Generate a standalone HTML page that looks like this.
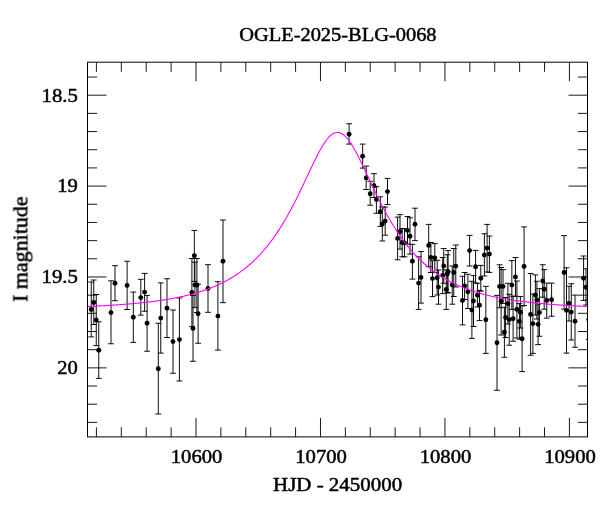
<!DOCTYPE html>
<html><head><meta charset="utf-8"><title>OGLE-2025-BLG-0068</title>
<style>html,body{margin:0;padding:0;background:#fff;}svg{display:block;}text{font-family:"Liberation Serif",serif;fill:#000;}</style></head><body>
<svg width="600" height="512" viewBox="0 0 600 512">
<rect width="600" height="512" fill="#fff"/>
<defs><clipPath id="c"><rect x="87.5" y="62.2" width="500" height="374.7"/></clipPath></defs>
<path d="M96.42,62.2v9.6 M96.42,436.9v-9.6 M121.32,62.2v9.6 M121.32,436.9v-9.6 M146.21,62.2v9.6 M146.21,436.9v-9.6 M171.11,62.2v9.6 M171.11,436.9v-9.6 M196.00,62.2v19 M196.00,436.9v-19 M220.89,62.2v9.6 M220.89,436.9v-9.6 M245.79,62.2v9.6 M245.79,436.9v-9.6 M270.68,62.2v9.6 M270.68,436.9v-9.6 M295.58,62.2v9.6 M295.58,436.9v-9.6 M320.47,62.2v19 M320.47,436.9v-19 M345.36,62.2v9.6 M345.36,436.9v-9.6 M370.26,62.2v9.6 M370.26,436.9v-9.6 M395.15,62.2v9.6 M395.15,436.9v-9.6 M420.05,62.2v9.6 M420.05,436.9v-9.6 M444.94,62.2v19 M444.94,436.9v-19 M469.83,62.2v9.6 M469.83,436.9v-9.6 M494.73,62.2v9.6 M494.73,436.9v-9.6 M519.62,62.2v9.6 M519.62,436.9v-9.6 M544.52,62.2v9.6 M544.52,436.9v-9.6 M569.41,62.2v19 M569.41,436.9v-19 M87.5,77.02h9.6 M587.5,77.02h-9.6 M87.5,95.20h19 M587.5,95.20h-19 M87.5,113.38h9.6 M587.5,113.38h-9.6 M87.5,131.55h9.6 M587.5,131.55h-9.6 M87.5,149.73h9.6 M587.5,149.73h-9.6 M87.5,167.91h9.6 M587.5,167.91h-9.6 M87.5,186.09h19 M587.5,186.09h-19 M87.5,204.26h9.6 M587.5,204.26h-9.6 M87.5,222.44h9.6 M587.5,222.44h-9.6 M87.5,240.62h9.6 M587.5,240.62h-9.6 M87.5,258.79h9.6 M587.5,258.79h-9.6 M87.5,276.97h19 M587.5,276.97h-19 M87.5,295.15h9.6 M587.5,295.15h-9.6 M87.5,313.32h9.6 M587.5,313.32h-9.6 M87.5,331.50h9.6 M587.5,331.50h-9.6 M87.5,349.68h9.6 M587.5,349.68h-9.6 M87.5,367.86h19 M587.5,367.86h-19 M87.5,386.03h9.6 M587.5,386.03h-9.6 M87.5,404.21h9.6 M587.5,404.21h-9.6 M87.5,422.39h9.6 M587.5,422.39h-9.6" stroke="#000" stroke-width="0.9" fill="none"/>
<g clip-path="url(#c)">
<path d="M91.25,282.00V336.90 M88.35,282.00h5.8 M88.35,336.90h5.8 M93.75,280.00V324.50 M90.85,280.00h5.8 M90.85,324.50h5.8 M96.25,294.50V345.60 M93.35,294.50h5.8 M93.35,345.60h5.8 M98.75,321.80V378.40 M95.85,321.80h5.8 M95.85,378.40h5.8 M111.00,280.80V343.75 M108.10,280.80h5.8 M108.10,343.75h5.8 M115.00,265.70V300.70 M112.10,265.70h5.8 M112.10,300.70h5.8 M127.10,261.25V309.50 M124.20,261.25h5.8 M124.20,309.50h5.8 M133.30,292.10V342.40 M130.40,292.10h5.8 M130.40,342.40h5.8 M140.80,279.30V315.10 M137.90,279.30h5.8 M137.90,315.10h5.8 M144.60,273.40V311.25 M141.70,273.40h5.8 M141.70,311.25h5.8 M147.10,295.40V351.25 M144.20,295.40h5.8 M144.20,351.25h5.8 M160.75,282.90V353.10 M157.85,282.90h5.8 M157.85,353.10h5.8 M158.30,323.25V414.00 M155.40,323.25h5.8 M155.40,414.00h5.8 M167.00,278.75V337.50 M164.10,278.75h5.8 M164.10,337.50h5.8 M173.00,310.00V373.25 M170.10,310.00h5.8 M170.10,373.25h5.8 M179.40,298.00V381.00 M176.50,298.00h5.8 M176.50,381.00h5.8 M194.35,230.50V281.40 M191.45,230.50h5.8 M191.45,281.40h5.8 M194.90,262.20V307.60 M192.00,262.20h5.8 M192.00,307.60h5.8 M196.90,258.50V312.50 M194.00,258.50h5.8 M194.00,312.50h5.8 M191.90,258.50V326.60 M189.00,258.50h5.8 M189.00,326.60h5.8 M193.00,295.40V361.25 M190.10,295.40h5.8 M190.10,361.25h5.8 M198.10,284.30V343.25 M195.20,284.30h5.8 M195.20,343.25h5.8 M208.00,264.70V312.30 M205.10,264.70h5.8 M205.10,312.30h5.8 M217.90,281.70V350.10 M215.00,281.70h5.8 M215.00,350.10h5.8 M223.00,220.00V302.70 M220.10,220.00h5.8 M220.10,302.70h5.8 M349.10,123.75V144.10 M346.20,123.75h5.8 M346.20,144.10h5.8 M362.65,144.10V168.10 M359.75,144.10h5.8 M359.75,168.10h5.8 M366.20,166.10V189.50 M363.30,166.10h5.8 M363.30,189.50h5.8 M374.00,173.70V197.50 M371.10,173.70h5.8 M371.10,197.50h5.8 M370.20,181.30V205.20 M367.30,181.30h5.8 M367.30,205.20h5.8 M376.40,186.70V213.30 M373.50,186.70h5.8 M373.50,213.30h5.8 M387.50,178.40V204.50 M384.60,178.40h5.8 M384.60,204.50h5.8 M380.30,196.80V226.40 M377.40,196.80h5.8 M377.40,226.40h5.8 M385.20,207.00V235.20 M382.30,207.00h5.8 M382.30,235.20h5.8 M382.30,207.00V241.00 M379.40,207.00h5.8 M379.40,241.00h5.8 M397.60,217.10V259.80 M394.70,217.10h5.8 M394.70,259.80h5.8 M400.00,214.60V249.10 M397.10,214.60h5.8 M397.10,249.10h5.8 M402.20,228.50V256.80 M399.30,228.50h5.8 M399.30,256.80h5.8 M404.50,228.80V256.80 M401.60,228.80h5.8 M401.60,256.80h5.8 M407.50,216.50V244.00 M404.60,216.50h5.8 M404.60,244.00h5.8 M410.00,217.80V254.10 M407.10,217.80h5.8 M407.10,254.10h5.8 M415.00,208.20V240.60 M412.10,208.20h5.8 M412.10,240.60h5.8 M428.70,224.40V266.60 M425.80,224.40h5.8 M425.80,266.60h5.8 M412.40,244.30V279.10 M409.50,244.30h5.8 M409.50,279.10h5.8 M421.00,251.60V303.10 M418.10,251.60h5.8 M418.10,303.10h5.8 M418.60,256.80V309.40 M415.70,256.80h5.8 M415.70,309.40h5.8 M430.90,242.50V272.50 M428.00,242.50h5.8 M428.00,272.50h5.8 M434.80,243.60V272.50 M431.90,243.60h5.8 M431.90,272.50h5.8 M432.50,260.80V296.60 M429.60,260.80h5.8 M429.60,296.60h5.8 M437.20,260.30V295.00 M434.30,260.30h5.8 M434.30,295.00h5.8 M438.50,270.00V304.20 M435.60,270.00h5.8 M435.60,304.20h5.8 M443.70,248.50V283.30 M440.80,248.50h5.8 M440.80,283.30h5.8 M442.70,257.50V293.60 M439.80,257.50h5.8 M439.80,293.60h5.8 M446.25,269.80V309.40 M443.35,269.80h5.8 M443.35,309.40h5.8 M448.10,250.60V292.60 M445.20,250.60h5.8 M445.20,292.60h5.8 M453.75,248.50V296.50 M450.85,248.50h5.8 M450.85,296.50h5.8 M455.80,245.00V287.00 M452.90,245.00h5.8 M452.90,287.00h5.8 M452.25,266.00V304.20 M449.35,266.00h5.8 M449.35,304.20h5.8 M447.30,254.75V293.00 M444.40,254.75h5.8 M444.40,293.00h5.8 M469.60,235.40V266.00 M466.70,235.40h5.8 M466.70,266.00h5.8 M475.60,250.40V283.00 M472.70,250.40h5.8 M472.70,283.00h5.8 M484.40,233.75V276.00 M481.50,233.75h5.8 M481.50,276.00h5.8 M487.10,224.40V272.00 M484.20,224.40h5.8 M484.20,272.00h5.8 M489.40,236.00V272.40 M486.50,236.00h5.8 M486.50,272.40h5.8 M480.80,265.40V291.20 M477.90,265.40h5.8 M477.90,291.20h5.8 M462.50,276.25V324.90 M459.60,276.25h5.8 M459.60,324.90h5.8 M464.60,272.50V299.50 M461.70,272.50h5.8 M461.70,299.50h5.8 M467.90,274.20V308.50 M465.00,274.20h5.8 M465.00,308.50h5.8 M473.50,275.60V326.50 M470.60,275.60h5.8 M470.60,326.50h5.8 M471.90,281.30V338.40 M469.00,281.30h5.8 M469.00,338.40h5.8 M477.45,283.30V307.00 M474.55,283.30h5.8 M474.55,307.00h5.8 M479.50,290.40V320.60 M476.60,290.40h5.8 M476.60,320.60h5.8 M485.85,286.30V353.40 M482.95,286.30h5.8 M482.95,353.40h5.8 M499.60,264.80V307.80 M496.70,264.80h5.8 M496.70,307.80h5.8 M497.00,295.40V390.25 M494.10,295.40h5.8 M494.10,390.25h5.8 M524.10,226.90V305.60 M521.20,226.90h5.8 M521.20,305.60h5.8 M515.45,257.50V296.20 M512.55,257.50h5.8 M512.55,296.20h5.8 M564.10,235.60V309.20 M561.20,235.60h5.8 M561.20,309.20h5.8 M503.00,269.60V303.40 M500.10,269.60h5.8 M500.10,303.40h5.8 M501.10,267.50V335.00 M498.20,267.50h5.8 M498.20,335.00h5.8 M511.85,260.60V309.40 M508.95,260.60h5.8 M508.95,309.40h5.8 M507.90,283.30V324.00 M505.00,283.30h5.8 M505.00,324.00h5.8 M505.60,297.50V337.50 M502.70,297.50h5.8 M502.70,337.50h5.8 M509.25,294.30V345.25 M506.35,294.30h5.8 M506.35,345.25h5.8 M513.10,296.25V341.25 M510.20,296.25h5.8 M510.20,341.25h5.8 M516.90,281.00V338.00 M514.00,281.00h5.8 M514.00,338.00h5.8 M520.40,296.60V328.00 M517.50,296.60h5.8 M517.50,328.00h5.8 M519.40,303.60V339.20 M516.50,303.60h5.8 M516.50,339.20h5.8 M530.60,273.50V355.25 M527.70,273.50h5.8 M527.70,355.25h5.8 M535.40,274.90V315.00 M532.50,274.90h5.8 M532.50,315.00h5.8 M536.90,281.25V319.00 M534.00,281.25h5.8 M534.00,319.00h5.8 M539.40,288.60V336.25 M536.50,288.60h5.8 M536.50,336.25h5.8 M532.90,294.00V353.40 M530.00,294.00h5.8 M530.00,353.40h5.8 M538.10,304.00V344.60 M535.20,304.00h5.8 M535.20,344.60h5.8 M542.75,264.75V297.20 M539.85,264.75h5.8 M539.85,297.20h5.8 M544.20,269.60V309.20 M541.30,269.60h5.8 M541.30,309.20h5.8 M546.75,283.10V318.10 M543.85,283.10h5.8 M543.85,318.10h5.8 M551.60,283.10V316.25 M548.70,283.10h5.8 M548.70,316.25h5.8 M504.40,307.25V357.25 M501.50,307.25h5.8 M501.50,357.25h5.8 M522.10,305.90V371.60 M519.20,305.90h5.8 M519.20,371.60h5.8 M583.60,256.00V300.40 M580.70,256.00h5.8 M580.70,300.40h5.8 M586.00,268.75V305.00 M583.10,268.75h5.8 M583.10,305.00h5.8 M569.00,286.25V321.00 M566.10,286.25h5.8 M566.10,321.00h5.8 M566.50,267.75V353.10 M563.60,267.75h5.8 M563.60,353.10h5.8 M571.25,283.75V340.00 M568.35,283.75h5.8 M568.35,340.00h5.8 M575.00,295.10V347.25 M572.10,295.10h5.8 M572.10,347.25h5.8 M588.80,299.50V339.50 M585.90,299.50h5.8 M585.90,339.50h5.8" stroke="#000" stroke-width="0.95" fill="none"/>
<g fill="#000"><circle cx="91.25" cy="309.50" r="2.45"/><circle cx="93.75" cy="302.50" r="2.45"/><circle cx="96.25" cy="320.00" r="2.45"/><circle cx="98.75" cy="350.30" r="2.45"/><circle cx="111.00" cy="312.60" r="2.45"/><circle cx="115.00" cy="283.30" r="2.45"/><circle cx="127.10" cy="285.40" r="2.45"/><circle cx="133.30" cy="317.30" r="2.45"/><circle cx="140.80" cy="297.60" r="2.45"/><circle cx="144.60" cy="292.10" r="2.45"/><circle cx="147.10" cy="323.20" r="2.45"/><circle cx="160.75" cy="318.10" r="2.45"/><circle cx="158.30" cy="368.75" r="2.45"/><circle cx="167.00" cy="308.25" r="2.45"/><circle cx="173.00" cy="341.60" r="2.45"/><circle cx="179.40" cy="339.60" r="2.45"/><circle cx="194.35" cy="255.70" r="2.45"/><circle cx="194.90" cy="285.00" r="2.45"/><circle cx="196.90" cy="285.00" r="2.45"/><circle cx="191.90" cy="292.50" r="2.45"/><circle cx="193.00" cy="328.40" r="2.45"/><circle cx="198.10" cy="313.70" r="2.45"/><circle cx="208.00" cy="288.40" r="2.45"/><circle cx="217.90" cy="316.10" r="2.45"/><circle cx="223.00" cy="261.30" r="2.45"/><circle cx="349.10" cy="134.20" r="2.45"/><circle cx="362.65" cy="156.25" r="2.45"/><circle cx="366.20" cy="177.90" r="2.45"/><circle cx="374.00" cy="185.80" r="2.45"/><circle cx="370.20" cy="193.75" r="2.45"/><circle cx="376.40" cy="199.60" r="2.45"/><circle cx="387.50" cy="191.60" r="2.45"/><circle cx="380.30" cy="211.70" r="2.45"/><circle cx="385.20" cy="221.10" r="2.45"/><circle cx="382.30" cy="224.00" r="2.45"/><circle cx="397.60" cy="238.40" r="2.45"/><circle cx="400.00" cy="231.80" r="2.45"/><circle cx="402.20" cy="242.50" r="2.45"/><circle cx="404.50" cy="243.00" r="2.45"/><circle cx="407.50" cy="230.40" r="2.45"/><circle cx="410.00" cy="236.30" r="2.45"/><circle cx="415.00" cy="224.30" r="2.45"/><circle cx="428.70" cy="245.40" r="2.45"/><circle cx="412.40" cy="261.30" r="2.45"/><circle cx="421.00" cy="277.40" r="2.45"/><circle cx="418.60" cy="283.10" r="2.45"/><circle cx="430.90" cy="257.40" r="2.45"/><circle cx="434.80" cy="258.00" r="2.45"/><circle cx="432.50" cy="278.60" r="2.45"/><circle cx="437.20" cy="277.70" r="2.45"/><circle cx="438.50" cy="287.10" r="2.45"/><circle cx="443.70" cy="265.90" r="2.45"/><circle cx="442.70" cy="275.50" r="2.45"/><circle cx="446.25" cy="289.50" r="2.45"/><circle cx="448.10" cy="271.60" r="2.45"/><circle cx="453.75" cy="272.50" r="2.45"/><circle cx="455.80" cy="266.10" r="2.45"/><circle cx="452.25" cy="284.90" r="2.45"/><circle cx="447.30" cy="274.00" r="2.45"/><circle cx="469.60" cy="250.60" r="2.45"/><circle cx="475.60" cy="266.70" r="2.45"/><circle cx="484.40" cy="255.00" r="2.45"/><circle cx="487.10" cy="248.10" r="2.45"/><circle cx="489.40" cy="254.10" r="2.45"/><circle cx="480.80" cy="278.30" r="2.45"/><circle cx="462.50" cy="300.50" r="2.45"/><circle cx="464.60" cy="286.00" r="2.45"/><circle cx="467.90" cy="291.80" r="2.45"/><circle cx="473.50" cy="301.00" r="2.45"/><circle cx="471.90" cy="310.00" r="2.45"/><circle cx="477.45" cy="295.20" r="2.45"/><circle cx="479.50" cy="305.30" r="2.45"/><circle cx="485.85" cy="319.75" r="2.45"/><circle cx="499.60" cy="286.40" r="2.45"/><circle cx="497.00" cy="342.80" r="2.45"/><circle cx="524.10" cy="266.40" r="2.45"/><circle cx="515.45" cy="276.90" r="2.45"/><circle cx="564.10" cy="272.50" r="2.45"/><circle cx="503.00" cy="286.40" r="2.45"/><circle cx="501.10" cy="301.25" r="2.45"/><circle cx="511.85" cy="285.10" r="2.45"/><circle cx="507.90" cy="303.60" r="2.45"/><circle cx="505.60" cy="317.50" r="2.45"/><circle cx="509.25" cy="319.60" r="2.45"/><circle cx="513.10" cy="318.75" r="2.45"/><circle cx="516.90" cy="309.40" r="2.45"/><circle cx="520.40" cy="312.25" r="2.45"/><circle cx="519.40" cy="321.40" r="2.45"/><circle cx="530.60" cy="314.40" r="2.45"/><circle cx="535.40" cy="295.00" r="2.45"/><circle cx="536.90" cy="300.00" r="2.45"/><circle cx="539.40" cy="312.45" r="2.45"/><circle cx="532.90" cy="323.60" r="2.45"/><circle cx="538.10" cy="324.35" r="2.45"/><circle cx="542.75" cy="280.95" r="2.45"/><circle cx="544.20" cy="289.30" r="2.45"/><circle cx="546.75" cy="300.40" r="2.45"/><circle cx="551.60" cy="299.75" r="2.45"/><circle cx="504.40" cy="332.25" r="2.45"/><circle cx="522.10" cy="338.75" r="2.45"/><circle cx="583.60" cy="278.30" r="2.45"/><circle cx="586.00" cy="287.30" r="2.45"/><circle cx="569.00" cy="303.50" r="2.45"/><circle cx="566.50" cy="310.40" r="2.45"/><circle cx="571.25" cy="312.10" r="2.45"/><circle cx="575.00" cy="321.25" r="2.45"/><circle cx="588.80" cy="319.50" r="2.45"/></g>
<path d="M87.5,306.46 L88.5,306.42 L89.5,306.38 L90.5,306.33 L91.5,306.29 L92.5,306.24 L93.5,306.20 L94.5,306.15 L95.5,306.10 L96.5,306.05 L97.5,306.00 L98.5,305.95 L99.5,305.90 L100.5,305.85 L101.5,305.80 L102.5,305.75 L103.5,305.69 L104.5,305.64 L105.5,305.58 L106.5,305.53 L107.5,305.47 L108.5,305.41 L109.5,305.35 L110.5,305.29 L111.5,305.23 L112.5,305.16 L113.5,305.10 L114.5,305.04 L115.5,304.97 L116.5,304.90 L117.5,304.84 L118.5,304.77 L119.5,304.70 L120.5,304.62 L121.5,304.55 L122.5,304.48 L123.5,304.40 L124.5,304.32 L125.5,304.25 L126.5,304.17 L127.5,304.09 L128.5,304.00 L129.5,303.92 L130.5,303.84 L131.5,303.75 L132.5,303.66 L133.5,303.57 L134.5,303.48 L135.5,303.39 L136.5,303.29 L137.5,303.20 L138.5,303.10 L139.5,303.00 L140.5,302.90 L141.5,302.79 L142.5,302.69 L143.5,302.58 L144.5,302.47 L145.5,302.36 L146.5,302.25 L147.5,302.13 L148.5,302.02 L149.5,301.90 L150.5,301.78 L151.5,301.65 L152.5,301.53 L153.5,301.40 L154.5,301.27 L155.5,301.14 L156.5,301.00 L157.5,300.86 L158.5,300.72 L159.5,300.58 L160.5,300.43 L161.5,300.29 L162.5,300.13 L163.5,299.98 L164.5,299.82 L165.5,299.66 L166.5,299.50 L167.5,299.33 L168.5,299.16 L169.5,298.99 L170.5,298.82 L171.5,298.64 L172.5,298.45 L173.5,298.27 L174.5,298.08 L175.5,297.89 L176.5,297.69 L177.5,297.49 L178.5,297.28 L179.5,297.07 L180.5,296.86 L181.5,296.64 L182.5,296.42 L183.5,296.20 L184.5,295.97 L185.5,295.73 L186.5,295.49 L187.5,295.25 L188.5,295.00 L189.5,294.75 L190.5,294.49 L191.5,294.22 L192.5,293.96 L193.5,293.68 L194.5,293.40 L195.5,293.12 L196.5,292.82 L197.5,292.53 L198.5,292.22 L199.5,291.91 L200.5,291.60 L201.5,291.28 L202.5,290.95 L203.5,290.61 L204.5,290.27 L205.5,289.92 L206.5,289.57 L207.5,289.20 L208.5,288.83 L209.5,288.45 L210.5,288.07 L211.5,287.67 L212.5,287.27 L213.5,286.86 L214.5,286.44 L215.5,286.01 L216.5,285.58 L217.5,285.13 L218.5,284.68 L219.5,284.21 L220.5,283.74 L221.5,283.26 L222.5,282.76 L223.5,282.26 L224.5,281.75 L225.5,281.22 L226.5,280.69 L227.5,280.14 L228.5,279.58 L229.5,279.01 L230.5,278.43 L231.5,277.83 L232.5,277.23 L233.5,276.61 L234.5,275.98 L235.5,275.33 L236.5,274.67 L237.5,274.00 L238.5,273.31 L239.5,272.61 L240.5,271.90 L241.5,271.17 L242.5,270.42 L243.5,269.66 L244.5,268.88 L245.5,268.09 L246.5,267.28 L247.5,266.46 L248.5,265.61 L249.5,264.75 L250.5,263.87 L251.5,262.98 L252.5,262.06 L253.5,261.13 L254.5,260.17 L255.5,259.20 L256.5,258.21 L257.5,257.19 L258.5,256.16 L259.5,255.10 L260.5,254.03 L261.5,252.93 L262.5,251.81 L263.5,250.67 L264.5,249.50 L265.5,248.32 L266.5,247.10 L267.5,245.87 L268.5,244.61 L269.5,243.33 L270.5,242.02 L271.5,240.68 L272.5,239.32 L273.5,237.94 L274.5,236.53 L275.5,235.09 L276.5,233.63 L277.5,232.14 L278.5,230.62 L279.5,229.08 L280.5,227.50 L281.5,225.90 L282.5,224.28 L283.5,222.62 L284.5,220.94 L285.5,219.23 L286.5,217.50 L287.5,215.74 L288.5,213.95 L289.5,212.13 L290.5,210.29 L291.5,208.42 L292.5,206.52 L293.5,204.60 L294.5,202.66 L295.5,200.69 L296.5,198.70 L297.5,196.69 L298.5,194.66 L299.5,192.61 L300.5,190.54 L301.5,188.46 L302.5,186.36 L303.5,184.25 L304.5,182.13 L305.5,180.00 L306.5,177.87 L307.5,175.73 L308.5,173.60 L309.5,171.47 L310.5,169.34 L311.5,167.23 L312.5,165.13 L313.5,163.05 L314.5,160.99 L315.5,158.96 L316.5,156.96 L317.5,155.01 L318.5,153.09 L319.5,151.23 L320.5,149.42 L321.5,147.66 L322.5,145.98 L323.5,144.37 L324.5,142.84 L325.5,141.39 L326.5,140.03 L327.5,138.76 L328.5,137.60 L329.5,136.55 L330.5,135.60 L331.5,134.78 L332.5,134.07 L333.5,133.49 L334.5,133.03 L335.5,132.70 L336.5,132.50 L337.5,132.44 L338.5,132.50 L339.5,132.70 L340.5,133.03 L341.5,133.49 L342.5,134.07 L343.5,134.78 L344.5,135.60 L345.5,136.55 L346.5,137.60 L347.5,138.76 L348.5,140.03 L349.5,141.39 L350.5,142.84 L351.5,144.37 L352.5,145.98 L353.5,147.66 L354.5,149.42 L355.5,151.23 L356.5,153.09 L357.5,155.01 L358.5,156.96 L359.5,158.96 L360.5,160.99 L361.5,163.05 L362.5,165.13 L363.5,167.23 L364.5,169.34 L365.5,171.47 L366.5,173.60 L367.5,175.73 L368.5,177.87 L369.5,180.00 L370.5,182.13 L371.5,184.25 L372.5,186.36 L373.5,188.46 L374.5,190.54 L375.5,192.61 L376.5,194.66 L377.5,196.69 L378.5,198.70 L379.5,200.69 L380.5,202.66 L381.5,204.60 L382.5,206.52 L383.5,208.42 L384.5,210.29 L385.5,212.13 L386.5,213.95 L387.5,215.74 L388.5,217.50 L389.5,219.23 L390.5,220.94 L391.5,222.62 L392.5,224.28 L393.5,225.90 L394.5,227.50 L395.5,229.08 L396.5,230.62 L397.5,232.14 L398.5,233.63 L399.5,235.09 L400.5,236.53 L401.5,237.94 L402.5,239.32 L403.5,240.68 L404.5,242.02 L405.5,243.33 L406.5,244.61 L407.5,245.87 L408.5,247.10 L409.5,248.32 L410.5,249.50 L411.5,250.67 L412.5,251.81 L413.5,252.93 L414.5,254.03 L415.5,255.10 L416.5,256.16 L417.5,257.19 L418.5,258.21 L419.5,259.20 L420.5,260.17 L421.5,261.13 L422.5,262.06 L423.5,262.98 L424.5,263.87 L425.5,264.75 L426.5,265.61 L427.5,266.46 L428.5,267.28 L429.5,268.09 L430.5,268.88 L431.5,269.66 L432.5,270.42 L433.5,271.17 L434.5,271.90 L435.5,272.61 L436.5,273.31 L437.5,274.00 L438.5,274.67 L439.5,275.33 L440.5,275.98 L441.5,276.61 L442.5,277.23 L443.5,277.83 L444.5,278.43 L445.5,279.01 L446.5,279.58 L447.5,280.14 L448.5,280.69 L449.5,281.22 L450.5,281.75 L451.5,282.26 L452.5,282.76 L453.5,283.26 L454.5,283.74 L455.5,284.21 L456.5,284.68 L457.5,285.13 L458.5,285.58 L459.5,286.01 L460.5,286.44 L461.5,286.86 L462.5,287.27 L463.5,287.67 L464.5,288.07 L465.5,288.45 L466.5,288.83 L467.5,289.20 L468.5,289.57 L469.5,289.92 L470.5,290.27 L471.5,290.61 L472.5,290.95 L473.5,291.28 L474.5,291.60 L475.5,291.91 L476.5,292.22 L477.5,292.53 L478.5,292.82 L479.5,293.12 L480.5,293.40 L481.5,293.68 L482.5,293.96 L483.5,294.22 L484.5,294.49 L485.5,294.75 L486.5,295.00 L487.5,295.25 L488.5,295.49 L489.5,295.73 L490.5,295.97 L491.5,296.20 L492.5,296.42 L493.5,296.64 L494.5,296.86 L495.5,297.07 L496.5,297.28 L497.5,297.49 L498.5,297.69 L499.5,297.89 L500.5,298.08 L501.5,298.27 L502.5,298.45 L503.5,298.64 L504.5,298.82 L505.5,298.99 L506.5,299.16 L507.5,299.33 L508.5,299.50 L509.5,299.66 L510.5,299.82 L511.5,299.98 L512.5,300.13 L513.5,300.29 L514.5,300.43 L515.5,300.58 L516.5,300.72 L517.5,300.86 L518.5,301.00 L519.5,301.14 L520.5,301.27 L521.5,301.40 L522.5,301.53 L523.5,301.65 L524.5,301.78 L525.5,301.90 L526.5,302.02 L527.5,302.13 L528.5,302.25 L529.5,302.36 L530.5,302.47 L531.5,302.58 L532.5,302.69 L533.5,302.79 L534.5,302.90 L535.5,303.00 L536.5,303.10 L537.5,303.20 L538.5,303.29 L539.5,303.39 L540.5,303.48 L541.5,303.57 L542.5,303.66 L543.5,303.75 L544.5,303.84 L545.5,303.92 L546.5,304.00 L547.5,304.09 L548.5,304.17 L549.5,304.25 L550.5,304.32 L551.5,304.40 L552.5,304.48 L553.5,304.55 L554.5,304.62 L555.5,304.70 L556.5,304.77 L557.5,304.84 L558.5,304.90 L559.5,304.97 L560.5,305.04 L561.5,305.10 L562.5,305.16 L563.5,305.23 L564.5,305.29 L565.5,305.35 L566.5,305.41 L567.5,305.47 L568.5,305.53 L569.5,305.58 L570.5,305.64 L571.5,305.69 L572.5,305.75 L573.5,305.80 L574.5,305.85 L575.5,305.90 L576.5,305.95 L577.5,306.00 L578.5,306.05 L579.5,306.10 L580.5,306.15 L581.5,306.20 L582.5,306.24 L583.5,306.29 L584.5,306.33 L585.5,306.38 L586.5,306.42 L587.5,306.46" stroke="#ff00ff" stroke-width="1.1" fill="none"/>
</g>
<rect x="87.5" y="62.2" width="500" height="374.7" fill="none" stroke="#000" stroke-width="1"/>
<defs><filter id="nf" x="0" y="0" width="600" height="512" filterUnits="userSpaceOnUse" color-interpolation-filters="sRGB"><feOffset dx="0" dy="0"/></filter></defs><g filter="url(#nf)" stroke="#000" stroke-width="0.48">
<text x="337.9" y="40.6" font-size="19.3" text-anchor="middle" textLength="197.4" lengthAdjust="spacingAndGlyphs">OGLE-2025-BLG-0068</text>
<text x="196.6" y="463" font-size="19.3" text-anchor="middle" textLength="51.6" lengthAdjust="spacingAndGlyphs">10600</text>
<text x="321.07000000000005" y="463" font-size="19.3" text-anchor="middle" textLength="51.6" lengthAdjust="spacingAndGlyphs">10700</text>
<text x="445.54" y="463" font-size="19.3" text-anchor="middle" textLength="51.6" lengthAdjust="spacingAndGlyphs">10800</text>
<text x="570.01" y="463" font-size="19.3" text-anchor="middle" textLength="51.6" lengthAdjust="spacingAndGlyphs">10900</text>
<text x="337.6" y="491.2" font-size="19.3" text-anchor="middle" textLength="129" lengthAdjust="spacingAndGlyphs">HJD - 2450000</text>
<text x="77.9" y="101.60000000000001" font-size="19.3" text-anchor="end" textLength="36.4" lengthAdjust="spacingAndGlyphs">18.5</text>
<text x="77.9" y="192.485" font-size="19.3" text-anchor="end" textLength="20.6" lengthAdjust="spacingAndGlyphs">19</text>
<text x="77.9" y="283.37" font-size="19.3" text-anchor="end" textLength="36.4" lengthAdjust="spacingAndGlyphs">19.5</text>
<text x="77.9" y="374.255" font-size="19.3" text-anchor="end" textLength="20.6" lengthAdjust="spacingAndGlyphs">20</text>
<text x="0" y="0" font-size="20" text-anchor="middle" textLength="105.6" lengthAdjust="spacingAndGlyphs" transform="translate(27.4,249.2) rotate(-90)">I magnitude</text>
</g>
</svg></body></html>
